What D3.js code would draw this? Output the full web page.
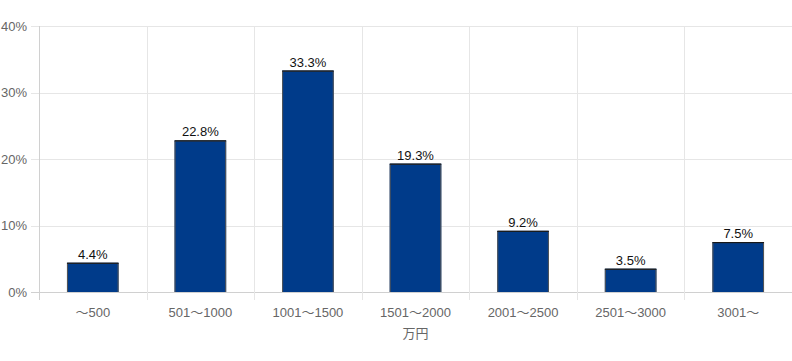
<!DOCTYPE html>
<html><head><meta charset="utf-8">
<script src="https://cdn.jsdelivr.net/npm/d3@7"></script>
<style>
html,body{margin:0;padding:0;background:#fff;}
svg{display:block;font-family:"Liberation Sans",Arial,"Noto Sans CJK JP",sans-serif;}
</style></head>
<body>
<svg id="c" width="792" height="361"></svg>
<script>
const categories = ["～500","501～1000","1001～1500","1501～2000","2001～2500","2501～3000","3001～"];
const values = [4.4, 22.8, 33.3, 19.3, 9.2, 3.5, 7.5];
const yTicks = [0, 10, 20, 30, 40];
const xTitle = "万円";

const svg = d3.select("#c");
const L = 39, R = 792, T = 26, B = 292;
const x = d3.scaleBand().domain(categories).range([L, R]).paddingInner(0).paddingOuter(0);
const y = d3.scaleLinear().domain([0, 40]).range([B, T]);

// horizontal grid
svg.append("g").selectAll("line").data(yTicks).join("line")
  .attr("x1", L - 8).attr("x2", R).attr("y1", d => Math.round(y(d)) + 0.5).attr("y2", d => Math.round(y(d)) + 0.5)
  .attr("stroke", d => d === 0 ? "#d0d0d0" : "#e6e6e6").attr("stroke-width", 1);

// vertical grid
const vx = categories.map(c => x(c)).concat([R - 0.5]);
svg.append("g").selectAll("line").data(vx).join("line")
  .attr("x1", d => Math.round(d) + 0.5).attr("x2", d => Math.round(d) + 0.5)
  .attr("y1", T).attr("y2", B + 8)
  .attr("stroke", (d, i) => i === 0 ? "#d0d0d0" : "#e6e6e6").attr("stroke-width", 1);

// y labels
svg.append("g").selectAll("text").data(yTicks).join("text")
  .attr("x", L - 12).attr("y", d => y(d)).attr("dy", "0.35em")
  .attr("text-anchor", "end").attr("font-size", 13).attr("fill", "#666")
  .text(d => d + "%");

// x labels
svg.append("g").selectAll("text").data(categories).join("text")
  .attr("x", d => x(d) + x.bandwidth() / 2).attr("y", 317)
  .attr("text-anchor", "middle").attr("font-size", 13).attr("fill", "#666")
  .text(d => d);

svg.append("text").attr("x", (L + R) / 2).attr("y", 338).attr("text-anchor", "middle")
  .attr("font-size", 13).attr("fill", "#666").text(xTitle);

// bars
const bw = x.bandwidth() * 0.48;
const g = svg.append("g");
categories.forEach((c, i) => {
  const cx = x(c) + x.bandwidth() / 2;
  const x0 = cx - bw / 2, x1 = cx + bw / 2, yt = y(values[i]);
  g.append("rect").attr("x", x0).attr("y", yt).attr("width", bw).attr("height", B - yt)
    .attr("fill", "#003b8a");
  g.append("path").attr("d", `M${x0+0.5},${B}V${yt+0.5}H${x1-0.5}V${B}`)
    .attr("fill", "none").attr("stroke", "#555").attr("stroke-width", 1);
  g.append("line").attr("x1", x0).attr("x2", x1).attr("y1", yt + 0.5).attr("y2", yt + 0.5)
    .attr("stroke", "#111").attr("stroke-width", 1);
  g.append("text").attr("x", cx).attr("y", yt - 4).attr("text-anchor", "middle")
    .attr("font-size", 13).attr("fill", "#111").text(values[i].toFixed(1) + "%");
});
</script>
</body></html>
